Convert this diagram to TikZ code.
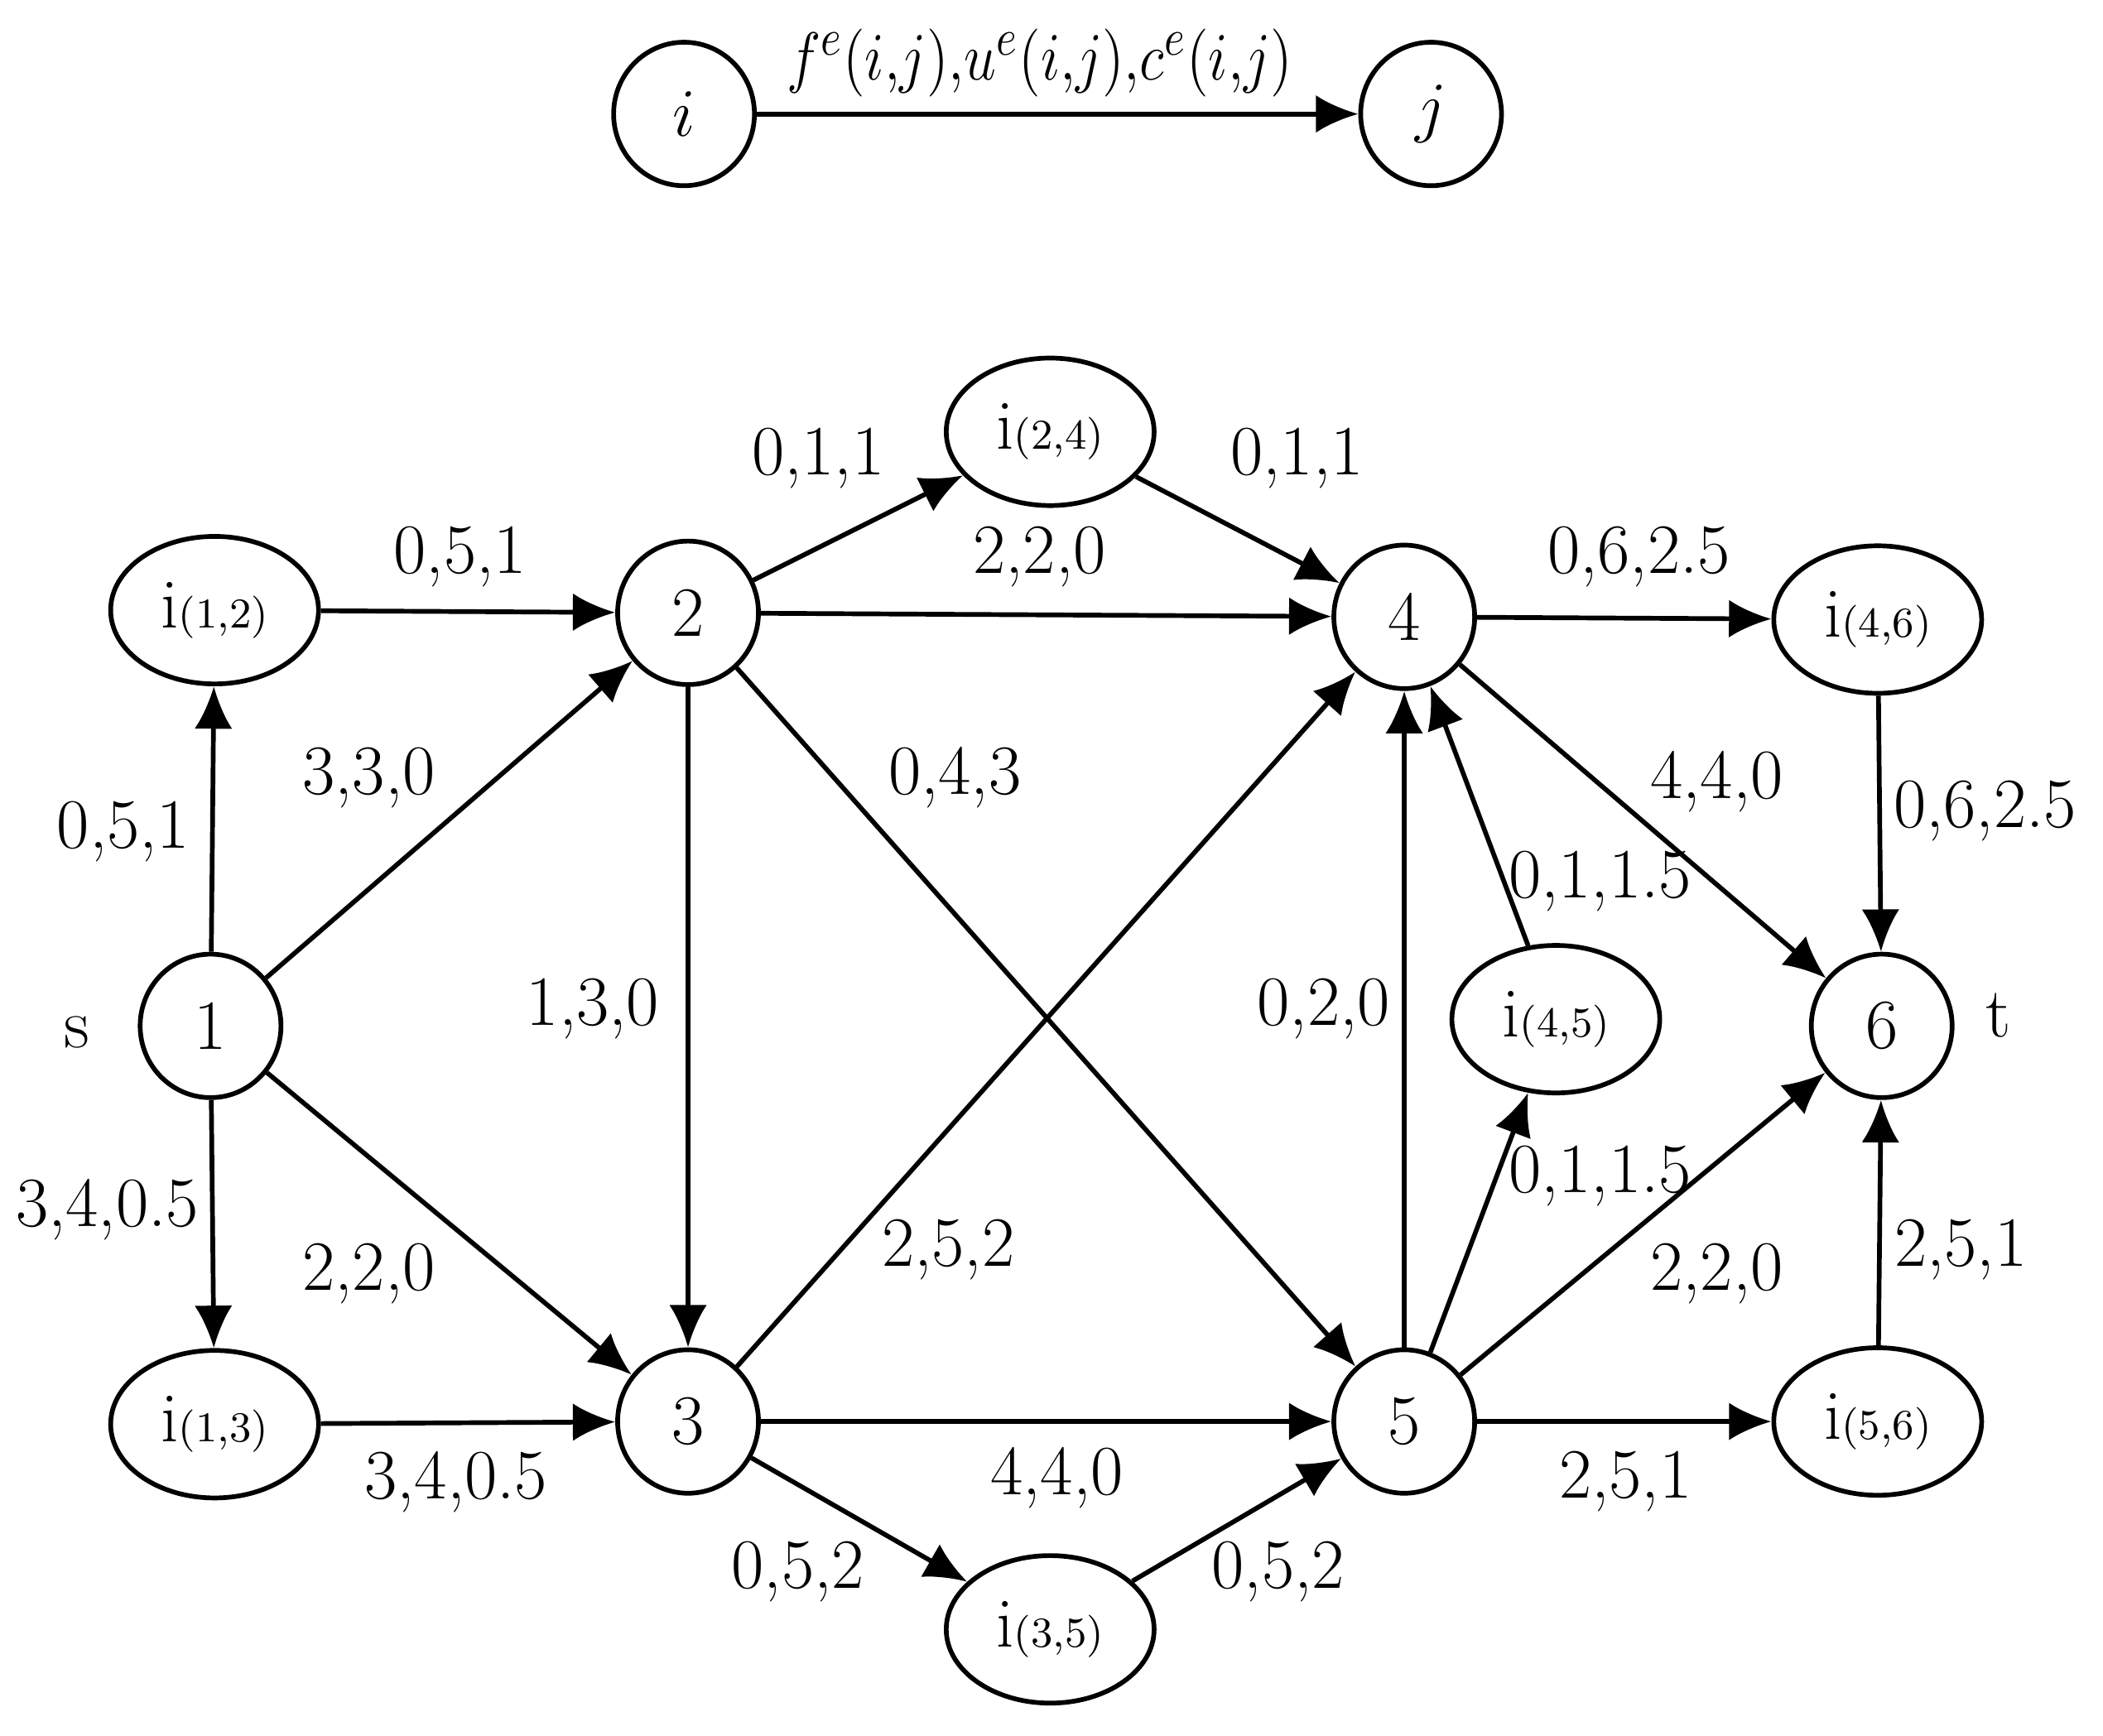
\documentclass[tikz,border=0pt]{standalone}
\usepackage{tikz}
\usetikzlibrary{arrows.meta, positioning, shapes.geometric}

\tikzset{
  vnode/.style={draw, ellipse, line width=1pt, minimum width=1.05cm, minimum height=1.07cm, inner sep=0pt, font=\fontsize{15}{17}\selectfont},
  inode/.style={draw, ellipse, line width=1pt, minimum width=1.55cm, minimum height=1.1cm, inner sep=0pt, font=\fontsize{15}{17}\selectfont},
  arc/.style={line width=1pt, -{Latex[length=9pt,width=8pt]}},
  lab/.style={font=\fontsize{15}{17}\selectfont, inner sep=0pt}
}
\newcommand{\isub}[1]{i{\fontsize{9}{9}\selectfont(#1)}}

\begin{document}
\begin{tikzpicture}
    \useasboundingbox (0,0) rectangle (15.68,-12.94);
    % legend
    \node[vnode] (ti) at (5.10,-0.85) {$i$};
    \node[vnode] (tj) at (10.67,-0.85) {$j$};
    \draw[arc] (ti) -- (tj);
    \node[lab] (tl) at (7.75,-0.47) {\scalebox{0.85}[1]{$f^{e}(i{,}j){,}u^{e}(i{,}j){,}c^{e}(i{,}j)$}};

    % nodes
    \node[vnode] (n1) at (1.57,-7.65) {1};
    \node[vnode] (n2) at (5.13,-4.57) {2};
    \node[vnode] (n3) at (5.13,-10.60) {3};
    \node[vnode] (n4) at (10.47,-4.60) {4};
    \node[vnode] (n5) at (10.47,-10.60) {5};
    \node[vnode] (n6) at (14.03,-7.65) {6};
    \node[inode] (i12) at (1.60,-4.55) {\isub{1,2}};
    \node[inode] (i13) at (1.60,-10.62) {\isub{1,3}};
    \node[inode] (i24) at (7.83,-3.22) {\isub{2,4}};
    \node[inode] (i35) at (7.83,-12.15) {\isub{3,5}};
    \node[inode] (i45) at (11.60,-7.60) {\isub{4,5}};
    \node[inode] (i46) at (14.00,-4.62) {\isub{4,6}};
    \node[inode] (i56) at (14.00,-10.60) {\isub{5,6}};
    \node[lab] (s) at (0.57,-7.70) {s};
    \node[lab] (t) at (14.90,-7.57) {t};

    % arcs
    \draw[arc] (n1) -- (i12);
    \draw[arc] (i12) -- (n2);
    \draw[arc] (n1) -- (n2);
    \draw[arc] (n1) -- (i13);
    \draw[arc] (i13) -- (n3);
    \draw[arc] (n1) -- (n3);
    \draw[arc] (n2) -- (i24);
    \draw[arc] (i24) -- (n4);
    \draw[arc] (n2) -- (n4);
    \draw[arc] (n2) -- (n3);
    \draw[arc] (n2) -- (n5);
    \draw[arc] (n3) -- (n4);
    \draw[arc] (n3) -- (n5);
    \draw[arc] (n3) -- (i35);
    \draw[arc] (i35) -- (n5);
    \draw[arc] (n5) -- (n4);
    \draw[arc] (n5) -- (i45);
    \draw[arc] (i45) -- (n4);
    \draw[arc] (n4) -- (i46);
    \draw[arc] (i46) -- (n6);
    \draw[arc] (n4) -- (n6);
    \draw[arc] (n5) -- (n6);
    \draw[arc] (n5) -- (i56);
    \draw[arc] (i56) -- (n6);

    % labels
    \node[lab] (l224a) at (6.10,-3.42) {0,1,1};
    \node[lab] (l244) at (9.67,-3.42) {0,1,1};
    \node[lab] (l122) at (3.43,-4.15) {0,5,1};
    \node[lab] (l24) at (7.75,-4.15) {2,2,0};
    \node[lab] (l446) at (12.22,-4.15) {0,6,2.5};
    \node[lab] (l12) at (2.75,-5.80) {3,3,0};
    \node[lab] (l25) at (7.12,-5.80) {0,4,3};
    \node[lab] (l46) at (12.80,-5.83) {4,4,0};
    \node[lab] (l112) at (0.92,-6.20) {0,5,1};
    \node[lab] (l466) at (14.80,-6.05) {0,6,2.5};
    \node[lab] (l454) at (11.93,-6.57) {0,1,1.5};
    \node[lab] (l23) at (4.42,-7.52) {1,3,0};
    \node[lab] (l54) at (9.87,-7.52) {0,2,0};
    \node[lab] (l113) at (0.80,-9.02) {3,4,0.5};
    \node[lab] (l545) at (11.93,-8.77) {0,1,1.5};
    \node[lab] (l34) at (7.07,-9.32) {2,5,2};
    \node[lab] (l13) at (2.75,-9.50) {2,2,0};
    \node[lab] (l56) at (12.80,-9.50) {2,2,0};
    \node[lab] (l566) at (14.62,-9.32) {2,5,1};
    \node[lab] (l133) at (3.40,-11.05) {3,4,0.5};
    \node[lab] (l35) at (7.88,-11.02) {4,4,0};
    \node[lab] (l556) at (12.12,-11.05) {2,5,1};
    \node[lab] (l335) at (5.95,-11.72) {0,5,2};
    \node[lab] (l355) at (9.53,-11.72) {0,5,2};
\end{tikzpicture}
\end{document}
